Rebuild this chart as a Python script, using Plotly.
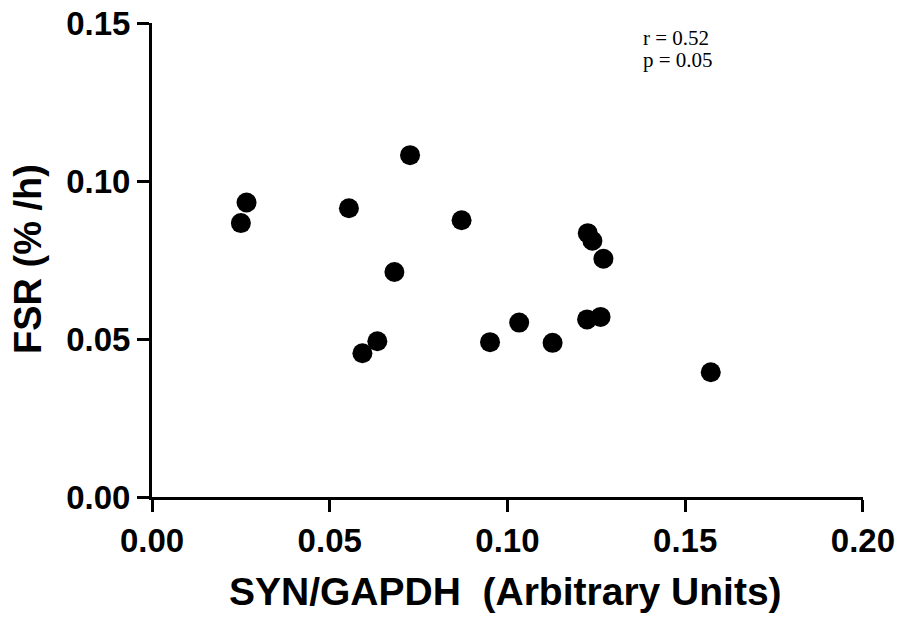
import plotly.graph_objects as go

# Data
syn_gapdh = [0.0250, 0.0266, 0.0554, 0.0592, 0.0634, 0.0682, 0.0726, 0.0871,
             0.0951, 0.1033, 0.1127, 0.1224, 0.1226, 0.1239, 0.1262, 0.1270, 0.1572]
fsr = [0.0867, 0.0932, 0.0914, 0.0455, 0.0493, 0.0712, 0.1082, 0.0876,
       0.0490, 0.0552, 0.0488, 0.0562, 0.0835, 0.0811, 0.0570, 0.0754, 0.0395]

x_ticks = [0.00, 0.05, 0.10, 0.15, 0.20]
y_ticks = [0.00, 0.05, 0.10, 0.15]
stats_text = ["r = 0.52", "p = 0.05"]
x_title = "SYN/GAPDH  (Arbitrary Units)"
y_title = "FSR (% /h)"

fig = go.Figure()
fig.add_trace(go.Scatter(
    x=syn_gapdh, y=fsr, mode="markers",
    marker=dict(size=20, color="black", line=dict(width=0)),
    cliponaxis=False, showlegend=False,
))

axis_common = dict(
    showgrid=False, zeroline=False, showline=True, linecolor="black", linewidth=3,
    ticks="outside", ticklen=12, tickwidth=3, tickcolor="black", automargin=False,
    ticklabeloverflow="allow",
    tickfont=dict(family="Liberation Sans, Arial", size=33, color="black", weight="bold"),
)

fig.update_xaxes(range=[0, 0.20003], tickvals=x_ticks,
                 ticktext=[f"{v:.2f}" for v in x_ticks], **axis_common)
fig.update_yaxes(range=[0, 0.15003], tickvals=y_ticks,
                 ticktext=[f"{v:.2f}" for v in y_ticks], **axis_common)

fig.add_annotation(x=0.4965, y=-0.2004, xref="paper", yref="paper", text=x_title,
                   showarrow=False, xanchor="center", yanchor="middle",
                   font=dict(family="Liberation Sans, Arial", size=39, color="black", weight="bold"))
fig.add_annotation(x=-0.1744, y=0.502, xref="paper", yref="paper", text=y_title,
                   showarrow=False, xanchor="center", yanchor="middle", textangle=-90,
                   font=dict(family="Liberation Sans, Arial", size=38, color="black", weight="bold"))

for i, t in enumerate(stats_text):
    fig.add_annotation(
        x=0.688, y=0.968 - i * 0.046, xref="paper", yref="paper",
        text=t, showarrow=False, xanchor="left", yanchor="middle",
        font=dict(family="Liberation Serif, Times New Roman", size=21, color="black"),
    )

fig.update_layout(
    width=902, height=618,
    margin=dict(l=152, r=39, t=23, b=121),
    plot_bgcolor="white", paper_bgcolor="white",
)

fig.write_html("out.html", config={"displayModeBar": False},
               post_script="document.body.style.margin='0';")
